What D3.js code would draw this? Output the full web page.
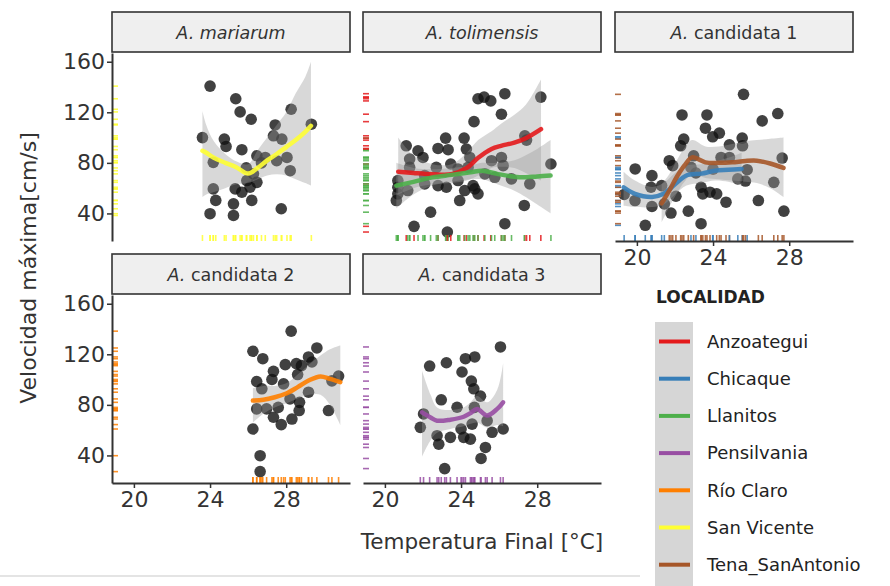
<!DOCTYPE html>
<html><head><meta charset="utf-8">
<script src="https://cdn.jsdelivr.net/npm/d3@7"></script>
<style>body{margin:0;background:#fff;} svg{display:block;font-family:"DejaVu Sans",sans-serif;}</style>
</head><body><svg id="c" width="890" height="586"></svg>
<script>
// ---------- data ----------
const localities = ["Anzoategui","Chicaque","Llanitos","Pensilvania","Río Claro","San Vicente","Tena_SanAntonio"];
const locColors  = ["#e41a1c","#377eb8","#4daf4a","#984ea3","#ff7f00","#ffff33","#a65628"];
const speciesNames = ["mariarum","tolimensis","candidata 1","candidata 2","candidata 3"];
const xTicks = [20,24,28];
const yTicks = [40,80,120,160];

// points: [temperatura final, velocidad máxima, localidad]
const ptsMariarum = [
 [24.0,140.7,"San Vicente"],[25.35,130.7,"San Vicente"],[25.58,120.3,"San Vicente"],[26.16,114.5,"San Vicente"],
 [28.26,122.4,"San Vicente"],[29.32,110.6,"San Vicente"],[23.6,100,"San Vicente"],[24.75,98.8,"San Vicente"],
 [24.84,93,"San Vicente"],[25.67,90.4,"San Vicente"],[27.42,110,"San Vicente"],[27.33,101.4,"San Vicente"],
 [27.77,98.8,"San Vicente"],[24.17,80.4,"San Vicente"],[26.46,85.6,"San Vicente"],[26.9,84.3,"San Vicente"],
 [27.5,81.7,"San Vicente"],[28.04,84.3,"San Vicente"],[28.21,73.8,"San Vicente"],[26.28,71.3,"San Vicente"],
 [25.93,66,"San Vicente"],[26.46,64.6,"San Vicente"],[26.1,60.7,"San Vicente"],[24.17,59.4,"San Vicente"],
 [25.32,59.4,"San Vicente"],[25.67,56.8,"San Vicente"],[24.3,50.3,"San Vicente"],[25.23,47.6,"San Vicente"],
 [26.19,50.3,"San Vicente"],[24.0,39.8,"San Vicente"],[25.23,38.4,"San Vicente"],[27.74,43.7,"San Vicente"],
 [25.9,76,"San Vicente"],[26.7,80,"San Vicente"]
];
const ptsTolimensis = [
 [24.89,130.7,"Anzoategui"],[25.21,132,"Anzoategui"],[25.56,129,"Anzoategui"],[26.3,134.7,"Anzoategui"],
 [28.19,132,"Anzoategui"],[26.12,118.5,"Anzoategui"],[24.68,112.6,"Anzoategui"],[23.19,99.6,"Llanitos"],
 [24.16,99.6,"Anzoategui"],[22.79,91.4,"Anzoategui"],[23.32,90.4,"Llanitos"],[24.28,90.9,"Anzoategui"],
 [21.12,93.5,"Anzoategui"],[21.74,89.6,"Llanitos"],[21.3,83,"Llanitos"],[22.0,84.3,"Llanitos"],
 [22.7,76.4,"Llanitos"],[23.46,79.1,"Anzoategui"],[23.84,75.2,"Llanitos"],[24.37,76.4,"Llanitos"],
 [24.46,84.3,"Llanitos"],[25.6,81.7,"Llanitos"],[26.12,84.3,"Llanitos"],[26.21,77.8,"Llanitos"],
 [27.44,98,"Anzoategui"],[27.35,101.4,"Anzoategui"],[28.72,79.1,"Llanitos"],[27.61,63.4,"Anzoategui"],
 [20.68,66,"Llanitos"],[20.68,55.5,"Llanitos"],[20.6,50.2,"Llanitos"],[21.2,58.1,"Llanitos"],
 [22.09,63.4,"Llanitos"],[22.79,62,"Llanitos"],[23.23,60.7,"Llanitos"],[23.84,66,"Llanitos"],
 [23.93,50.2,"Llanitos"],[24.19,58.1,"Llanitos"],[24.63,62,"Llanitos"],[24.89,55.5,"Llanitos"],
 [24.72,59.4,"Llanitos"],[25.25,71.3,"Llanitos"],[25.77,68.6,"Llanitos"],[26.65,67.3,"Llanitos"],
 [27.32,46.3,"Llanitos"],[22.4,41,"Llanitos"],[21.53,29.8,"Anzoategui"],[23.28,25.3,"Anzoategui"],
 [26.3,31.9,"Llanitos"],[21.3,76.4,"Llanitos"],[22.09,69.9,"Llanitos"],[20.68,60.7,"Llanitos"]
];
const ptsCandidata1 = [
 [25.6,134.2,"Tena_SanAntonio"],[22.37,117.9,"Tena_SanAntonio"],[23.68,117.9,"Tena_SanAntonio"],[27.4,119,"Tena_SanAntonio"],
 [26.58,113.2,"Tena_SanAntonio"],[23.6,107.4,"Tena_SanAntonio"],[23.98,100.6,"Chicaque"],[24.33,103.5,"Tena_SanAntonio"],
 [24.86,94.3,"Tena_SanAntonio"],[25.53,99.6,"Chicaque"],[25.55,93.5,"Tena_SanAntonio"],[22.46,98.8,"Tena_SanAntonio"],
 [22.3,93.5,"Tena_SanAntonio"],[21.7,81.7,"Tena_SanAntonio"],[22.98,85.6,"Tena_SanAntonio"],[24.42,84.3,"Tena_SanAntonio"],
 [27.63,83.8,"Tena_SanAntonio"],[19.91,75.2,"Chicaque"],[20.79,69.9,"Chicaque"],[25.79,74.6,"Chicaque"],
 [27.19,64.6,"Tena_SanAntonio"],[25.7,65.6,"Tena_SanAntonio"],[25.3,67.3,"Chicaque"],[19.33,55,"Chicaque"],
 [19.9,50.2,"Chicaque"],[20.74,60.7,"Chicaque"],[20.79,45.5,"Chicaque"],[21.44,47.6,"Chicaque"],
 [22.05,53.6,"Tena_SanAntonio"],[21.79,40.3,"Tena_SanAntonio"],[22.7,41.8,"Tena_SanAntonio"],[23.37,60.7,"Tena_SanAntonio"],
 [23.46,55.5,"Tena_SanAntonio"],[23.84,56.8,"Tena_SanAntonio"],[24.19,55.5,"Tena_SanAntonio"],[24.68,48.9,"Tena_SanAntonio"],
 [26.38,50.2,"Tena_SanAntonio"],[27.72,41.8,"Tena_SanAntonio"],[20.44,30.6,"Chicaque"],[23.37,31.9,"Tena_SanAntonio"],
 [21.3,62,"Chicaque"],[21.88,77.8,"Tena_SanAntonio"],[22.84,76.4,"Chicaque"],[24.86,84.3,"Chicaque"],
 [24.0,75,"Chicaque"],[23.1,72,"Chicaque"]
];
const ptsCandidata2 = [
 [28.26,138.3,"Río Claro"],[26.25,122.4,"Río Claro"],[26.77,116.5,"Río Claro"],[29.61,125,"Río Claro"],
 [29.17,117.9,"Río Claro"],[29.35,113.9,"Río Claro"],[27.95,111.8,"Río Claro"],[28.53,112.6,"Río Claro"],
 [28.8,111,"Río Claro"],[27.33,106.5,"Río Claro"],[27.25,100.1,"Río Claro"],[27.86,96.6,"Río Claro"],
 [26.45,98.5,"Río Claro"],[26.72,92.7,"Río Claro"],[28.6,104,"Río Claro"],[30.75,102.8,"Río Claro"],
 [30.4,99,"Río Claro"],[29.17,90,"Río Claro"],[28.2,84.7,"Río Claro"],[28.7,82,"Río Claro"],
 [26.45,76.8,"Río Claro"],[26.97,76.8,"Río Claro"],[27.58,78,"Río Claro"],[27.33,70.2,"Río Claro"],
 [27.74,64.4,"Río Claro"],[28.3,68.8,"Río Claro"],[28.68,75.5,"Río Claro"],[30.22,75.5,"Río Claro"],
 [26.25,60.9,"Río Claro"],[26.63,39.8,"Río Claro"],[26.63,27.2,"Río Claro"]
];
const ptsCandidata3 = [
 [26.07,125.8,"Pensilvania"],[22.35,110.7,"Pensilvania"],[23.23,113.3,"Pensilvania"],[24.23,116.5,"Pensilvania"],
 [24.72,117.9,"Pensilvania"],[24.05,106,"Pensilvania"],[24.54,98.8,"Pensilvania"],[24.67,92.7,"Pensilvania"],
 [25.02,86.9,"Pensilvania"],[22.96,84,"Pensilvania"],[23.79,78.1,"Pensilvania"],[21.86,62.2,"Pensilvania"],
 [22.74,55.6,"Pensilvania"],[22.83,48.9,"Pensilvania"],[23.44,54.3,"Pensilvania"],[24.14,54.3,"Pensilvania"],
 [24.49,52.9,"Pensilvania"],[24.58,64.8,"Pensilvania"],[24.0,60.9,"Pensilvania"],[25.37,67.5,"Pensilvania"],
 [25.63,58.3,"Pensilvania"],[26.21,60.9,"Pensilvania"],[25.28,46.3,"Pensilvania"],[25.05,37.6,"Pensilvania"],
 [23.14,29.6,"Pensilvania"],[22.03,72.8,"Pensilvania"],[24.7,78,"Pensilvania"]
];

// loess fits: [temperatura, ajuste, límite inferior, límite superior]
const fitSanVicente = [[23.6,89.6,53,121],[23.8,88,55,110],[24.2,84,57,97],[24.8,80,60,87],[25.4,76.4,63,81],[26.0,71.5,64,79],
 [26.5,76,67,90],[27.0,82,70,100],[27.5,87,71,110],[28.0,92.5,70,120],[28.5,98,67,135],[29.0,104.5,64,148],[29.3,109.3,62,160]];
const fitAnzoategui = [[20.7,73,55,100],[21.5,72,60,86],[22.5,71,63,79],[23.5,71,64,79],[24.3,76,66,88],[24.9,84,70,98],
 [25.6,91,76,105],[26.1,93.5,77,111],[26.8,96,76,118],[27.4,99.5,72,126],[28.2,106.7,66,146]];
const fitLlanitos = [[20.6,62,44,80],[21.5,65,55,76],[22.5,68.5,62,75],[23.5,70.5,65,76],[24.5,72.5,67,78],[25.1,73.8,67,80],
 [25.9,71.3,63,80],[26.8,69,58,82],[27.4,68.6,53,86],[28.0,69.3,47,91],[28.7,70,40,98]];
const fitChicaque = [[19.3,60.7,46,73],[19.9,55.5,45,66],[20.8,53,45,61],[21.4,55.5,47,64],[22.0,63,55,72],[22.6,70,62,78],
 [23.4,71.5,64,79],[24.1,73.8,66,81],[24.8,74.5,65,84],[25.5,75.2,62,88]];
const fitTena = [[21.3,48,33,63],[21.7,58,45,71],[22.1,69,56,82],[22.5,78,65,92],[22.9,84.3,71,98],[23.6,80.4,68,93],
 [24.3,80,67,93],[25.0,80.4,66,95],[25.7,81.5,65,97],[26.3,81.7,64,98],[27.0,79.5,60,99],[27.7,76,53,100]];
const fitRioClaro = [[26.25,83.4,66,93],[26.8,84,73,95],[27.4,86,78,95],[28.0,89,81,97],[28.6,94,85,104],[29.2,99.5,88,112],
 [29.8,102.5,88,119],[30.3,100.5,80,124],[30.84,98,64,127]];
const fitPensilvania = [[21.95,74,39,107],[22.4,70,52,88],[22.74,67.5,58,78],[23.44,68.3,61,76],[24.14,70.6,63,78],
 [24.5,73.5,65,82],[24.84,76.8,66,87],[25.37,71.6,62,82],[25.9,76.8,64,92],[26.21,82,63,113]];

// ---------- layout ----------
const colX = [112, 363, 615], panelW = 238;
const stripTop = [12, 254], stripH = 41, panelH = 188;
const color = d3.scaleOrdinal(localities, locColors);
const x = d3.scaleLinear().domain([18.85, 31.35]).range([0, panelW]);
const y = d3.scaleLinear().domain([18.2, 166.9]).range([panelH, 0]);

const panels = [
 {sp:0, col:0, row:0, pts:ptsMariarum, fits:[["San Vicente",fitSanVicente]], yAxis:true, xAxis:false, italicAll:true},
 {sp:1, col:1, row:0, pts:ptsTolimensis, fits:[["Anzoategui",fitAnzoategui],["Llanitos",fitLlanitos]], yAxis:false, xAxis:false, italicAll:true},
 {sp:2, col:2, row:0, pts:ptsCandidata1, fits:[["Chicaque",fitChicaque],["Tena_SanAntonio",fitTena]], yAxis:false, xAxis:true},
 {sp:3, col:0, row:1, pts:ptsCandidata2, fits:[["Río Claro",fitRioClaro]], yAxis:true, xAxis:true},
 {sp:4, col:1, row:1, pts:ptsCandidata3, fits:[["Pensilvania",fitPensilvania]], yAxis:false, xAxis:true}
];

const svg = d3.select("#c");
svg.append("line").attr("x1",0).attr("x2",640).attr("y1",576).attr("y2",576)
   .attr("stroke","#e4e4e4").attr("stroke-width",2);

const area = d3.area().x(d=>x(d[0])).y0(d=>y(d[2])).y1(d=>y(d[3])).curve(d3.curveCatmullRom);
const line = d3.line().x(d=>x(d[0])).y(d=>y(d[1])).curve(d3.curveCatmullRom);

panels.forEach(p=>{
  const px = colX[p.col], st = stripTop[p.row], pt = st + stripH;
  // strip
  const s = svg.append("g").attr("transform",`translate(${px},${st})`);
  s.append("rect").attr("width",panelW).attr("height",stripH-1).attr("fill","#efefef")
   .attr("stroke","#333").attr("stroke-width",1.6);
  const t = s.append("text").attr("x",panelW/2).attr("y",stripH/2).attr("dy","0.35em")
   .attr("text-anchor","middle").attr("font-size",17.5).attr("fill","#333");
  if (p.italicAll) t.append("tspan").attr("font-style","italic").text("A. "+speciesNames[p.sp]);
  else { t.append("tspan").attr("font-style","italic").text("A.");
         t.append("tspan").text(" "+speciesNames[p.sp]); }

  const g = svg.append("g").attr("transform",`translate(${px},${pt})`);
  // points
  g.selectAll("circle").data(p.pts).join("circle")
   .attr("cx",d=>x(d[0])).attr("cy",d=>y(d[1])).attr("r",5.8)
   .attr("fill","#111").attr("fill-opacity",0.8);
  // ribbons
  p.fits.forEach(([loc,f])=>{
    g.append("path").datum(f).attr("d",area).attr("fill","#999").attr("fill-opacity",0.38);
  });
  p.fits.forEach(([loc,f])=>{
    g.append("path").datum(f).attr("d",line).attr("fill","none")
     .attr("stroke",color(loc)).attr("stroke-width",4.5).attr("stroke-opacity",0.9)
     .attr("stroke-linecap","round");
  });
  // rugs
  g.append("g").selectAll("line").data(p.pts).join("line")
   .attr("x1",0).attr("x2",6).attr("y1",d=>y(d[1])).attr("y2",d=>y(d[1]))
   .attr("stroke",d=>color(d[2])).attr("stroke-width",1.6).attr("stroke-opacity",0.85);
  g.append("g").selectAll("line").data(p.pts).join("line")
   .attr("y1",panelH-6).attr("y2",panelH).attr("x1",d=>x(d[0])).attr("x2",d=>x(d[0]))
   .attr("stroke",d=>color(d[2])).attr("stroke-width",1.6).attr("stroke-opacity",0.85);
  // axes
  if (p.yAxis) {
    const ya = g.append("g").call(d3.axisLeft(y).tickValues(yTicks).tickSize(5).tickSizeOuter(0).tickPadding(2));
    ya.select(".domain").attr("stroke","#333").attr("stroke-width",2);
    ya.selectAll(".tick line").attr("stroke","#333").attr("stroke-width",1.5);
    ya.selectAll("text").attr("font-size",22).attr("fill","#333").attr("font-family","DejaVu Sans");
  }
  if (p.xAxis) {
    const xa = g.append("g").attr("transform",`translate(0,${panelH})`)
     .call(d3.axisBottom(x).tickValues(xTicks).tickSize(5).tickSizeOuter(0).tickPadding(3));
    xa.select(".domain").attr("stroke","#333").attr("stroke-width",2);
    xa.selectAll(".tick line").attr("stroke","#333").attr("stroke-width",1.5);
    xa.selectAll("text").attr("font-size",22).attr("fill","#333").attr("font-family","DejaVu Sans");
  }
});

// axis titles
svg.append("text").attr("transform","translate(36,268) rotate(-90)").attr("text-anchor","middle")
   .attr("font-size",22).attr("fill","#333").text("Velocidad máxima[cm/s]");
svg.append("text").attr("x",482).attr("y",549).attr("text-anchor","middle")
   .attr("font-size",21.5).attr("fill","#333").text("Temperatura Final [°C]");

// legend
const lg = svg.append("g");
lg.append("text").attr("x",656).attr("y",303).attr("font-size",17).attr("font-weight","bold")
  .attr("fill","#222").text("LOCALIDAD");
lg.append("rect").attr("x",655).attr("y",322).attr("width",38).attr("height",264).attr("fill","#d6d6d6");
localities.forEach((loc,i)=>{
  const cy = 341.5 + i*37.2;
  lg.append("line").attr("x1",659).attr("x2",690).attr("y1",cy).attr("y2",cy)
    .attr("stroke",color(loc)).attr("stroke-width",4);
  lg.append("text").attr("x",707).attr("y",cy).attr("dy","0.35em").attr("font-size",18)
    .attr("fill","#222").text(loc);
});
</script></body></html>
